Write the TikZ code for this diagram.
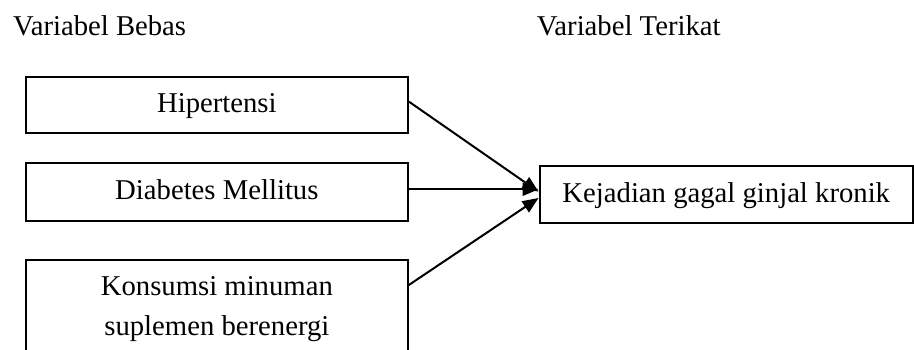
\documentclass[tikz,border=0pt]{standalone}
\usepackage{fontspec}
\setmainfont{Liberation Serif}
\usetikzlibrary{arrows.meta}
\begin{document}
\begin{tikzpicture}[x=1pt,y=1pt,
  every node/.style={font=\fontsize{28.7}{40}\selectfont},
  title/.style={inner sep=0pt, anchor=base west},
  box/.style={draw, line width=2pt, inner sep=0pt, text height=21.8pt, text depth=6pt},
  conn/.style={line width=2pt, -{Triangle[length=16pt,width=13pt]}}]
\clip (0,0) rectangle (914,-350);
\useasboundingbox (0,0) rectangle (914,-350);
\fill[white] (0,0) rectangle (914,-350);
\node[title] (t1) at (13,-36) {Variabel Bebas};
\node[title] (t2) at (536.7,-36) {Variabel Terikat};
\node[box, minimum width=382.3pt, minimum height=56pt] (b1) at (216.85,-104.7) {Hipertensi};
\node[box, minimum width=382.3pt, minimum height=58.3pt] (b2) at (216.85,-191.85) {Diabetes Mellitus};
\node[draw, line width=2pt, inner xsep=0pt, inner ysep=16.4pt, minimum width=382pt, align=center, anchor=north] (b3) at (216.85,-259) {Konsumsi minuman\\suplemen berenergi};
\node[box, minimum width=373.5pt, minimum height=56.2pt] (tgt) at (726.25,-194.6) {Kejadian gagal ginjal kronik};
\draw[conn] ([yshift=3pt]b1.east) -- ([yshift=2.9pt]tgt.west);
\draw[conn] ([yshift=2.5pt]b2.east) -- ([yshift=2.5pt]b2.east -| tgt.west);
\draw[conn] ([yshift=-26pt]b3.north east) -- ([yshift=-3.4pt]tgt.west);
\end{tikzpicture}
\end{document}
